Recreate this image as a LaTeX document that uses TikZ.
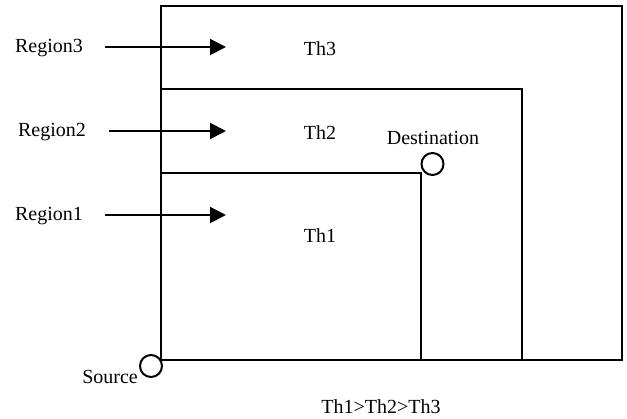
\documentclass[tikz,border=0pt]{standalone}
\usepackage{fontspec}
\setmainfont{Liberation Serif}
\usetikzlibrary{arrows.meta}
\begin{document}
\begin{tikzpicture}[x=1pt,y=-1pt,
  lbl/.style={inner sep=0pt,font=\fontsize{20}{24}\selectfont},
  boxline/.style={line width=2pt},
  arr/.style={line width=2pt,-{Triangle[length=16pt,width=16pt]}},
  pt/.style={circle,draw,line width=2pt,minimum size=22pt,inner sep=0pt}]
\useasboundingbox (0,0) rectangle (627,419);
% boxes
\draw[boxline] (161,6) rectangle (622,360);
\draw[boxline] (161,89) -- (522,89) -- (522,360);
\draw[boxline] (161,173) -- (421,173) -- (421,360);
% labels
\node[lbl] (r3) at (49,48) {Region3};
\node[lbl] (r2) at (52,132) {Region2};
\node[lbl] (r1) at (49,216) {Region1};
\node[lbl] (t3) at (320,49) {Th3};
\node[lbl] (t2) at (320,133) {Th2};
\node[lbl] (t1) at (320,236) {Th1};
\node[lbl] (dl) at (433,138) {Destination};
\node[lbl,anchor=east] (sl) at (138,377) {Source};
\node[lbl] (rel) at (381,407) {Th1>Th2>Th3};
% points
\node[pt] (dest) at (432.5,164) {};
\node[pt] (src) at (151,366) {};
% arrows
\coordinate (s3) at (105,47); \coordinate (e3) at (226,47);
\coordinate (s2) at (109,131); \coordinate (e2) at (226,131);
\coordinate (s1) at (105,215); \coordinate (e1) at (226,215);
\draw[arr] (s3) -- (e3);
\draw[arr] (s2) -- (e2);
\draw[arr] (s1) -- (e1);
\end{tikzpicture}
\end{document}
